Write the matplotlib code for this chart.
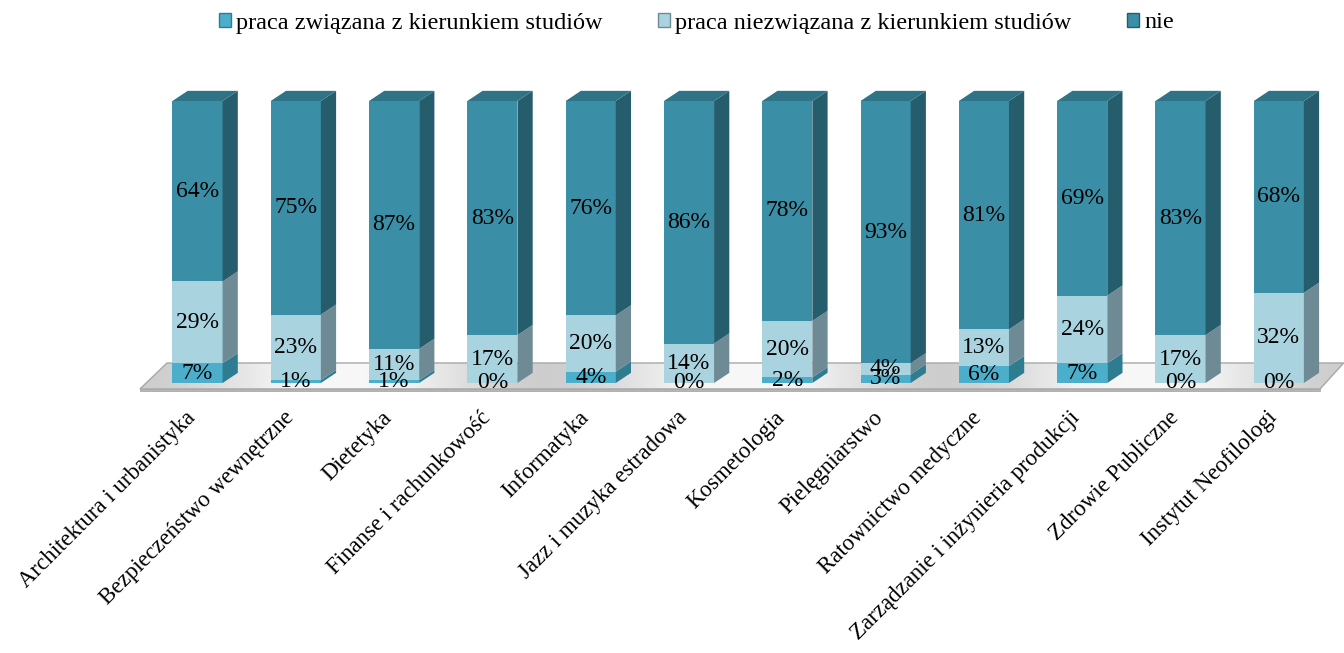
import numpy as np
import matplotlib
matplotlib.use("Agg")
import matplotlib.pyplot as plt
from matplotlib.patches import Polygon, Patch

plt.rcParams['font.family'] = ['Liberation Serif', 'DejaVu Serif']

categories = ["Architektura i urbanistyka", "Bezpieczeństwo wewnętrzne", "Dietetyka",
              "Finanse i rachunkowość", "Informatyka", "Jazz i muzyka estradowa",
              "Kosmetologia", "Pielęgniarstwo", "Ratownictwo medyczne",
              "Zarządzanie i inżynieria produkcji", "Zdrowie Publiczne", "Instytut Neofilologi"]
zwiazana = [7, 1, 1, 0, 4, 0, 2, 3, 6, 7, 0, 0]
niezwiazana = [29, 23, 11, 17, 20, 14, 20, 4, 13, 24, 17, 32]
nie = [64, 75, 87, 83, 76, 86, 78, 93, 81, 69, 83, 68]
series_names = ["praca związana z kierunkiem studiów",
                "praca niezwiązana z kierunkiem studiów", "nie"]

# front, side, top colours per series
colors = [("#4BAFCB", "#2E7C90", "#3C97AF"),
          ("#AAD3E0", "#6E8A94", "#C4E2EB"),
          ("#3A8EA5", "#255D6C", "#2F7386")]

W, H = 1344, 653
fig = plt.figure(figsize=(W / 100, H / 100), dpi=100)
ax = fig.add_axes([135 / W, (H - 395) / H, (1344 - 135) / W, (395 - 85) / H])

step_px = 98.3
x0 = -(197.5 - 135) / step_px
ax.set_xlim(x0, x0 + (1344 - 135) / step_px)
ax.set_ylim(-(395 - 383) / 2.82, 100 + (101 - 85) / 2.82)
ax.axis("off")

width = 0.51
dx, dy = 0.155, 3.6

# floor with a soft grey gradient
floor_pts = [(-0.585, -2.1), (11.42, -2.1), (11.66, 7.1), (-0.31, 7.1)]
floor_top = Polygon(floor_pts, closed=True, facecolor="none", edgecolor="#A8A8A8", lw=1, zorder=2)
ax.add_patch(floor_top)
grad = np.tile(0.5 + 0.5 * np.cos(np.linspace(0, 6 * np.pi, 200)), (10, 1))
im = ax.imshow(grad, extent=(-0.6, 11.7, -2.1, 7.1), aspect="auto", cmap="Greys",
               vmin=-0.25, vmax=3.9, origin="lower", zorder=1, interpolation="bilinear")
im.set_clip_path(floor_top)
floor_front = Polygon([(-0.585, -2.1), (11.42, -2.1), (11.42, -3.0), (-0.585, -3.0)],
                      closed=True, facecolor="#B5B5B5", edgecolor="#A0A0A0", lw=0.5, zorder=1)
ax.add_patch(floor_front)

x = np.arange(len(categories))
data = [np.array(v, dtype=float) for v in (zwiazana, niezwiazana, nie)]
totals = sum(data)
bottom = np.zeros(len(categories))
for s, vals in enumerate(data):
    h = vals / totals * 100  # 100% stacked
    front, side, top = colors[s]
    ax.bar(x, h, width=width, bottom=bottom, color=front, edgecolor="none", zorder=3)
    for i in range(len(x)):
        xr = x[i] + width / 2
        y0, y1 = bottom[i], bottom[i] + h[i]
        if h[i] > 0:
            ax.add_patch(Polygon([(xr, y0), (xr + dx, y0 + dy), (xr + dx, y1 + dy), (xr, y1)],
                                 closed=True, facecolor=side, edgecolor="none", zorder=3))
        if s == len(data) - 1:
            xl = x[i] - width / 2
            ax.add_patch(Polygon([(xl, y1), (xr, y1), (xr + dx, y1 + dy), (xl + dx, y1 + dy)],
                                 closed=True, facecolor=top, edgecolor="none", zorder=3))
        ax.text(x[i], y0 + h[i] / 2, f"{int(vals[i])}%", ha="center", va="center",
                fontsize=17, color="black", zorder=5)
    bottom += h

for i, c in enumerate(categories):
    ax.text(x[i] - 0.13, -8.5, c, rotation=45, rotation_mode="anchor", ha="right",
            va="top", fontsize=16.5, clip_on=False)

handles = [Patch(facecolor=colors[s][0], edgecolor=colors[s][1]) for s in range(3)]
fig.legend(handles, series_names, loc="center", bbox_to_anchor=(0.518, 1 - 23 / H),
           ncol=3, frameon=False, fontsize=17.5, handlelength=0.5, handleheight=0.5,
           handletextpad=0.2, columnspacing=2.3)

fig.savefig("out.png", dpi=100)
